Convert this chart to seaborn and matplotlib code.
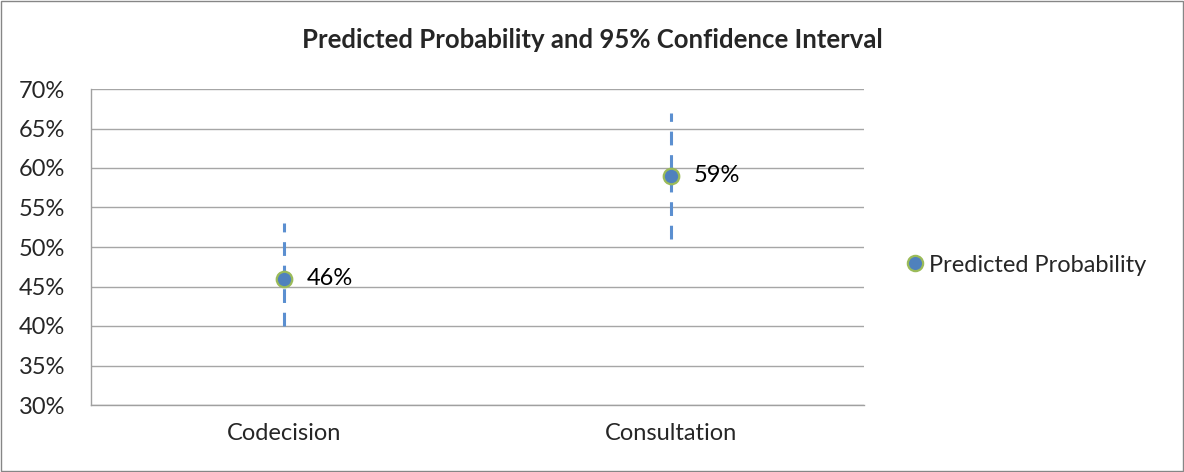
import matplotlib
matplotlib.use("Agg")
import matplotlib.pyplot as plt
import seaborn as sns
import pandas as pd
from matplotlib.patches import Rectangle
from matplotlib.lines import Line2D

categories = ["Codecision", "Consultation"]
predicted = [0.46, 0.59]
ci_low = [0.40, 0.51]
ci_high = [0.53, 0.67]
value_labels = ["46%", "59%"]
yticks = [0.30, 0.35, 0.40, 0.45, 0.50, 0.55, 0.60, 0.65, 0.70]
ytick_labels = ["30%", "35%", "40%", "45%", "50%", "55%", "60%", "65%", "70%"]

sns.set_style("white")
plt.rcParams['font.family'] = ['Lato', 'DejaVu Sans']

FS = 17

df = pd.DataFrame({"cat": categories, "p": predicted, "lo": ci_low, "hi": ci_high})

fig = plt.figure(figsize=(11.84, 4.72), dpi=100)
ax = fig.add_axes([91/1184, 1-405/472, (864-91)/1184, (405-89)/472])

xpos = list(range(len(categories)))
ax.vlines(xpos, df["lo"], df["hi"], colors="#5b8fd0", linewidth=2.2,
          linestyles=(0, (4.5, 3.2)), zorder=2)
sns.scatterplot(x=xpos, y=df["p"], ax=ax, s=125, color="#4f81bd",
                edgecolor="#9bbb59", linewidth=1.6, zorder=3, legend=False)
for x, y, t in zip(xpos, predicted, value_labels):
    ax.annotate(t, (x, y), xytext=(16.5, 0), textcoords="offset points",
                va="center", ha="left", fontsize=FS, color="black")

ax.set_xlim(-0.5, 1.5)
ax.set_ylim(0.30, 0.70)
ax.set_yticks(yticks)
ax.set_yticklabels(ytick_labels, fontsize=FS)
ax.set_xticks(xpos)
ax.set_xticklabels(categories, fontsize=FS)
ax.set_xticks([-0.5, 0.5, 1.5], minor=True)
ax.tick_params(axis="x", which="major", length=0, pad=13)
ax.tick_params(axis="x", which="minor", length=4.5, color="#a0a0a0", width=1, direction="out")
ax.tick_params(axis="y", length=6.5, color="#a0a0a0", width=1, direction="out", pad=12)
ax.grid(axis="y", color="#a6a6a6", linewidth=1)
ax.set_axisbelow(True)
for s in ["top", "right"]:
    ax.spines[s].set_visible(False)
for s in ["left", "bottom"]:
    ax.spines[s].set_color("#a0a0a0")
    ax.spines[s].set_linewidth(1)
ax.set_xlabel("")
ax.set_ylabel("")

fig.text(592/1184, 1-40/472, "Predicted Probability and 95% Confidence Interval",
         ha="center", va="center", fontsize=18.5, fontweight="bold")

handle = Line2D([], [], marker="o", linestyle="none", markersize=11,
                markerfacecolor="#4f81bd", markeredgecolor="#9bbb59", markeredgewidth=1.6)
fig.legend([handle], ["Predicted Probability"], loc="center left",
           bbox_to_anchor=(905.5/1184, 1-265/472), frameon=False, fontsize=FS,
           handletextpad=0.19, handlelength=0.8, borderaxespad=0, borderpad=0)

fig.patches.append(Rectangle((1/1184, 1/472), 1-2/1184, 1-2/472, transform=fig.transFigure,
                             fill=False, edgecolor="#868686", linewidth=1))

fig.savefig("out.png", dpi=100)
